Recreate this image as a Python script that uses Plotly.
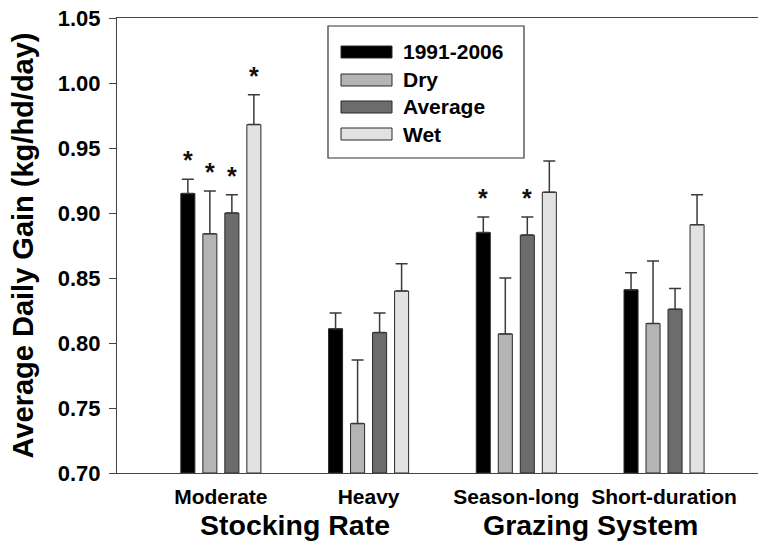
import plotly.graph_objects as go

# Grouping categories along the x axis
categories = ["Moderate", "Heavy", "Season-long", "Short-duration"]
group_titles = ["Stocking Rate", "Grazing System"]

# Series: average daily gain (kg/hd/day) and upper error-bar ends
series_names = ["1991-2006", "Dry", "Average", "Wet"]
gain_1991_2006 = [0.915, 0.811, 0.885, 0.841]
gain_dry = [0.884, 0.738, 0.807, 0.815]
gain_average = [0.900, 0.808, 0.883, 0.826]
gain_wet = [0.968, 0.840, 0.916, 0.891]

upper_1991_2006 = [0.926, 0.823, 0.897, 0.854]
upper_dry = [0.917, 0.787, 0.850, 0.863]
upper_average = [0.914, 0.823, 0.897, 0.842]
upper_wet = [0.991, 0.861, 0.940, 0.914]

# Significance markers (asterisks) per series and category
sig_1991_2006 = [True, False, True, False]
sig_dry = [True, False, False, False]
sig_average = [True, False, True, False]
sig_wet = [True, False, False, False]

y_ticks = [0.70, 0.75, 0.80, 0.85, 0.90, 0.95, 1.00, 1.05]

colors = ["#000000", "#b4b4b4", "#6c6c6c", "#e2e2e2"]
gains = [gain_1991_2006, gain_dry, gain_average, gain_wet]
uppers = [upper_1991_2006, upper_dry, upper_average, upper_wet]
sigs = [sig_1991_2006, sig_dry, sig_average, sig_wet]

W, H = 758, 544
ML, MR, MT, MB = 117, 0, 18, 71
PW, PH = W - ML - MR, H - MT - MB

FONT = "Liberation Sans, Arial, sans-serif"
pitch = 0.149
bar_w = 0.095
x_pos = list(range(len(categories)))

fig = go.Figure()
annotations = []
for i, name in enumerate(series_names):
    center_shift = (i - 1.5) * pitch
    err = [u - g for u, g in zip(uppers[i], gains[i])]
    fig.add_trace(go.Bar(
        name=name,
        x=x_pos,
        y=[g - 0.70 for g in gains[i]],
        base=0.70,
        width=bar_w,
        offset=center_shift - bar_w / 2,
        marker=dict(color=colors[i], line=dict(color="#2a2a2a", width=1)),
        error_y=dict(type="data", symmetric=False, array=err,
                     arrayminus=[0] * len(err),
                     color="#3a3a3a", thickness=1.5, width=6),
        showlegend=False,
        hoverinfo="skip",
    ))
    for j, flag in enumerate(sigs[i]):
        if flag:
            annotations.append(dict(
                x=x_pos[j] + center_shift, y=uppers[i][j], xref="x", yref="y",
                text="*", showarrow=False, yanchor="bottom", yshift=3,
                font=dict(family=FONT, size=25, color="#111", weight="bold"),
            ))

# Group titles under the category labels
for k, title in enumerate(group_titles):
    annotations.append(dict(
        x=2 * k + 0.5, y=-0.114, xref="x", yref="paper",
        text=title, showarrow=False, yanchor="middle",
        font=dict(family=FONT, size=28.5, color="#000", weight="bold"),
    ))


def px_x(p):
    return (p - ML) / PW


def px_y(p):
    return (H - MB - p) / PH


# Legend drawn as a framed box with wide swatches
shapes = [dict(type="rect", xref="paper", yref="paper",
               x0=px_x(328), x1=px_x(524), y0=px_y(158), y1=px_y(26),
               line=dict(color="#333", width=1.2), fillcolor="white")]
row_y = [52, 80, 107, 134]
for i, name in enumerate(series_names):
    shapes.append(dict(type="rect", xref="paper", yref="paper",
                       x0=px_x(341), x1=px_x(392),
                       y0=px_y(row_y[i] + 6), y1=px_y(row_y[i] - 6),
                       line=dict(color="#2a2a2a", width=1), fillcolor=colors[i]))
    annotations.append(dict(
        x=px_x(401), y=px_y(row_y[i]), xref="paper", yref="paper",
        text=name, showarrow=False, xanchor="left", yanchor="middle",
        font=dict(family=FONT, size=21, color="#000", weight="bold"),
    ))

fig.update_layout(
    width=W, height=H,
    margin=dict(l=ML, r=MR, t=MT, b=MB, pad=0),
    paper_bgcolor="white", plot_bgcolor="white",
    barmode="overlay",
    showlegend=False,
    annotations=annotations,
    shapes=shapes,
    xaxis=dict(
        range=[-0.703, 3.636], tickmode="array", tickvals=x_pos,
        ticktext=categories, ticks="", showgrid=False, zeroline=False,
        showline=True, mirror=True, linecolor="#444", linewidth=1.2,
        tickfont=dict(family=FONT, size=21, color="#000", weight="bold"),
        ticklabelstandoff=5,
    ),
    yaxis=dict(
        range=[0.70, 1.05], tickmode="array", tickvals=y_ticks,
        ticktext=[f"{t:.2f}" for t in y_ticks],
        ticks="outside", ticklen=7, tickcolor="#444", tickwidth=1.2,
        showgrid=False, zeroline=False,
        showline=True, linecolor="#444", linewidth=1.2,
        tickfont=dict(family=FONT, size=22, color="#000", weight="bold"),
        ticklabelstandoff=4,
        title=dict(text="Average Daily Gain (kg/hd/day)", standoff=15,
                   font=dict(family=FONT, size=29, color="#000", weight="bold")),
    ),
)

fig.write_html("out.html")
